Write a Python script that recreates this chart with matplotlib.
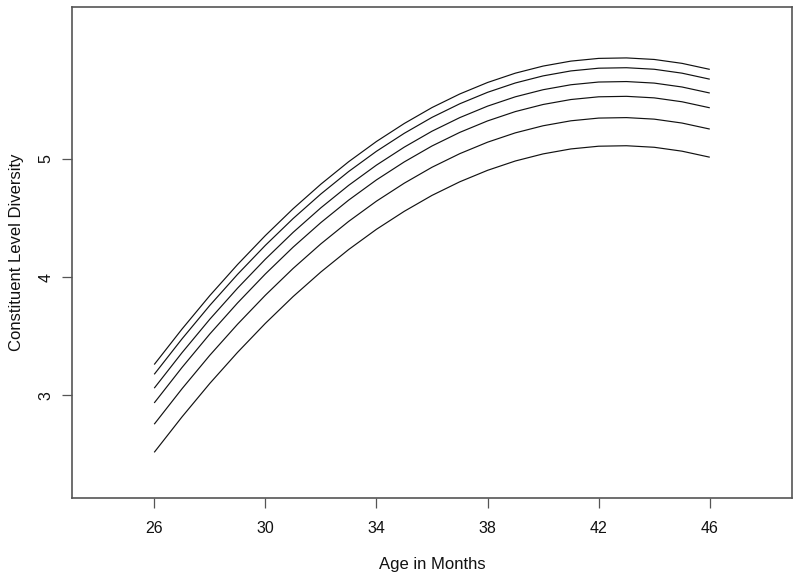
import matplotlib
matplotlib.use("Agg")
import matplotlib.pyplot as plt

plt.rcParams['font.family'] = ['Liberation Sans', 'DejaVu Sans']

age = [26, 27, 28, 29, 30, 31, 32, 33, 34, 35, 36, 37, 38, 39, 40, 41, 42, 43, 44, 45, 46]

curve1 = [3.260, 3.560, 3.843, 4.106, 4.351, 4.578, 4.786, 4.976, 5.147, 5.299, 5.434,
          5.549, 5.646, 5.725, 5.785, 5.827, 5.850, 5.854, 5.841, 5.808, 5.757]
curve2 = [3.177, 3.477, 3.760, 4.023, 4.268, 4.495, 4.703, 4.893, 5.064, 5.216, 5.351,
          5.466, 5.563, 5.642, 5.702, 5.744, 5.767, 5.771, 5.758, 5.725, 5.674]
curve3 = [3.060, 3.360, 3.643, 3.906, 4.151, 4.378, 4.586, 4.776, 4.947, 5.099, 5.234,
          5.349, 5.446, 5.525, 5.585, 5.627, 5.650, 5.654, 5.641, 5.608, 5.557]
curve4 = [2.935, 3.235, 3.518, 3.781, 4.026, 4.253, 4.461, 4.651, 4.822, 4.974, 5.109,
          5.224, 5.321, 5.400, 5.460, 5.502, 5.525, 5.529, 5.516, 5.483, 5.432]
curve5 = [2.755, 3.055, 3.338, 3.601, 3.846, 4.073, 4.281, 4.471, 4.642, 4.794, 4.929,
          5.044, 5.141, 5.220, 5.280, 5.322, 5.345, 5.349, 5.336, 5.303, 5.252]
curve6 = [2.517, 2.817, 3.100, 3.363, 3.608, 3.835, 4.043, 4.233, 4.404, 4.556, 4.691,
          4.806, 4.903, 4.982, 5.042, 5.084, 5.107, 5.111, 5.098, 5.065, 5.014]

xticks = [26, 30, 34, 38, 42, 46]
yticks = [3, 4, 5]
xlabel = "Age in Months"
ylabel = "Constituent Level Diversity"

fig = plt.figure(figsize=(8.0, 5.81), dpi=100)
ax = fig.add_axes([0.09, 0.1429, 0.90, 0.8451])

for c in [curve1, curve2, curve3, curve4, curve5, curve6]:
    ax.plot(age, c, color='#111111', linewidth=0.85, solid_capstyle='butt')

ax.set_xlim(23.04, 48.96)
ax.set_ylim(2.131, 6.285)
ax.set_xticks(xticks)
ax.set_xticklabels([str(t) for t in xticks])
ax.set_yticks(yticks)
ax.set_yticklabels([str(t) for t in yticks], rotation=90, va='center')

for s in ax.spines.values():
    s.set_color('#555555')
    s.set_linewidth(1.2)

ax.tick_params(axis='both', direction='out', length=7.5, width=0.9, color='#555555',
               labelsize=11.5, labelcolor='#111111')
ax.tick_params(axis='x', pad=9)
ax.tick_params(axis='y', pad=6)

ax.set_xlabel(xlabel, fontsize=12, color='#111111', labelpad=15)
ax.set_ylabel(ylabel, fontsize=12, color='#111111', labelpad=10)

fig.savefig("out.png", dpi=100)
